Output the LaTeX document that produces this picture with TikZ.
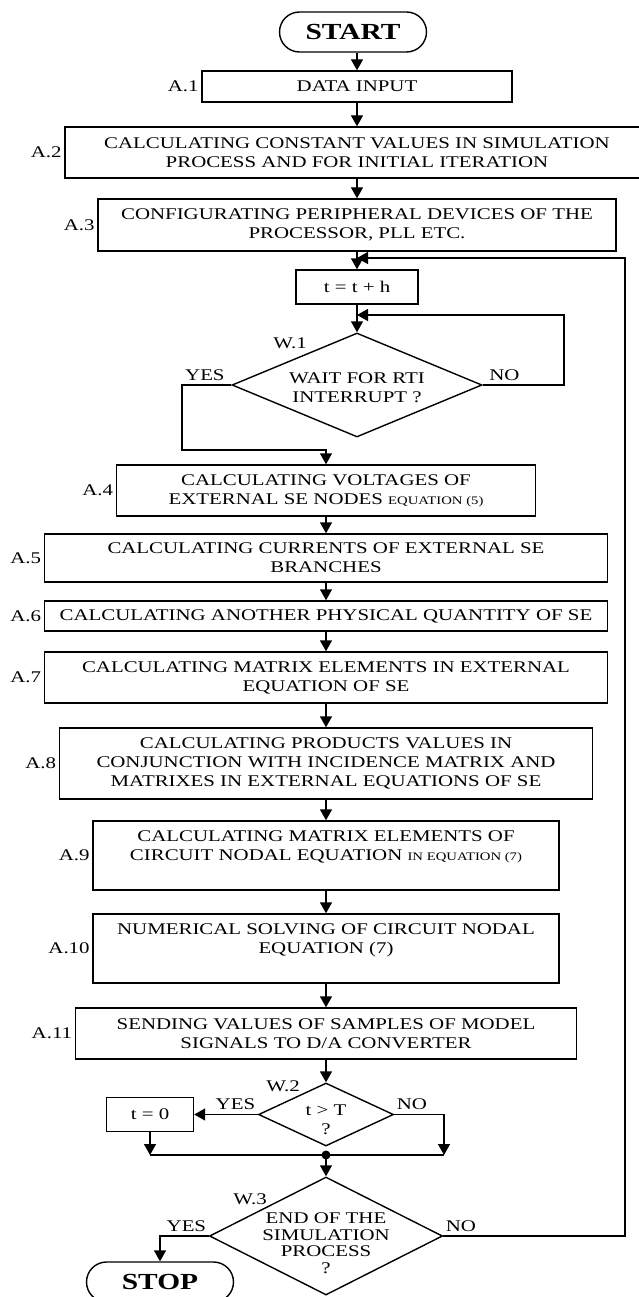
\documentclass[tikz,border=0pt]{standalone}
\usepackage{fontspec}
\setmainfont{Liberation Serif}[FakeStretch=1.28]
\usetikzlibrary{shapes.geometric,arrows.meta,positioning,calc}

\newcommand{\eqtxt}[1]{{\fontsize{11.5pt}{12pt}\selectfont #1}}

\begin{document}
\begin{tikzpicture}[x=1pt, y=-1pt,
    every node/.style={font=\fontsize{16.3pt}{19pt}\selectfont},
    every label/.style={inner sep=2pt},
    line width=1.4pt,
    box/.style={draw, rectangle, align=center, inner sep=2pt, label distance=2pt},
    decision/.style={draw, diamond, inner sep=0pt},
    term/.style={draw, rectangle, rounded corners=20pt, minimum width=147pt, minimum height=40pt, font=\fontsize{23pt}{24pt}\selectfont\bfseries},
    lbl/.style={inner sep=1pt},
    yn/.style={inner sep=2pt, yshift=2pt},
    flow/.style={-{Triangle[length=11pt,width=12pt]}}]
    \useasboundingbox (0,0) rectangle (639,1297);

    % blocks
    \node[term] (start) at (353,32) {START};
    \node[box, minimum width=310pt, minimum height=31pt, label={left:A.1}] (a1) at (357,86.5) {DATA INPUT};
    \node[box, minimum width=584pt, minimum height=51pt, label={left:A.2}] (a2) at (357,152.5) {CALCULATING CONSTANT VALUES IN SIMULATION\\PROCESS AND FOR INITIAL ITERATION};
    \node[box, minimum width=518pt, minimum height=52pt, label={left:A.3}] (a3) at (357,225) {CONFIGURATING PERIPHERAL DEVICES OF THE\\PROCESSOR, PLL ETC.};
    \node[box, minimum width=122pt, minimum height=34pt] (tth) at (357,287) {t = t + h};
    \node[decision, minimum width=250pt, minimum height=104pt, label={[align=center, yshift=-3pt]center:WAIT FOR RTI\\INTERRUPT ?}] (w1) at (357,385) {};
    \node[lbl] (w1lbl) at (290,343) {W.1};
    \node[box, minimum width=419pt, minimum height=51pt, label={left:A.4}] (a4) at (326,490.5) {CALCULATING VOLTAGES OF\\EXTERNAL SE NODES \eqtxt{EQUATION (5)}};
    \node[box, minimum width=563pt, minimum height=48pt, label={left:A.5}] (a5) at (326,558) {CALCULATING CURRENTS OF EXTERNAL SE\\BRANCHES};
    \node[box, minimum width=563pt, minimum height=30pt, label={left:A.6}] (a6) at (326,616) {CALCULATING ANOTHER PHYSICAL QUANTITY OF SE};
    \node[box, minimum width=563pt, minimum height=51pt, label={left:A.7}] (a7) at (326,677.5) {CALCULATING MATRIX ELEMENTS IN EXTERNAL\\EQUATION OF SE};
    \node[box, minimum width=533pt, minimum height=71pt, label={left:A.8}] (a8) at (326,763.5) {CALCULATING PRODUCTS VALUES IN\\CONJUNCTION WITH INCIDENCE MATRIX AND\\MATRIXES IN EXTERNAL EQUATIONS OF SE};
    \node[box, minimum width=466pt, minimum height=69pt, label={left:A.9}] (a9) at (326,855.5) {CALCULATING MATRIX ELEMENTS OF\\CIRCUIT NODAL EQUATION \eqtxt{IN EQUATION (7)}\\~};
    \node[box, minimum width=466pt, minimum height=69pt, label={left:A.10}] (a10) at (326,948.5) {NUMERICAL SOLVING OF CIRCUIT NODAL\\EQUATION (7)\\~};
    \node[box, minimum width=501pt, minimum height=51pt, label={left:A.11}] (a11) at (326,1033.5) {SENDING VALUES OF SAMPLES OF MODEL\\SIGNALS TO D/A CONVERTER};
    \node[decision, minimum width=135pt, minimum height=63pt, label={[align=center, yshift=-5pt]center:t > T\\?}] (w2) at (326,1114.5) {};
    \node[lbl] (w2lbl) at (283,1086) {W.2};
    \node[box, minimum width=87pt, minimum height=34pt] (t0) at (150,1114.5) {t = 0};
    \node[decision, minimum width=233pt, minimum height=118pt, label={[align=center, yshift=-7pt, font=\fontsize{16.3pt}{16.5pt}\selectfont]center:END OF THE\\SIMULATION\\PROCESS\\?}] (w3) at (326,1236) {};
    \node[lbl] (w3lbl) at (250,1199) {W.3};
    \node[term] (stop) at (160,1282) {STOP};

    % helper points
    \coordinate (nw1) at (564,315);
    \coordinate (yw1) at (182,450);
    \coordinate (mrg) at (326,1155);
    \coordinate (nw2) at (444,1155);
    \coordinate (rt) at (625,258);

    % connectors
    \draw[flow] (a1.north |- start.south) -- (a1);
    \draw[flow] (a1) -- (a2);
    \draw[flow] (a2) -- (a3);
    \draw[flow] (a3) -- (tth);
    \draw[flow] (tth) -- (w1);
    \draw[flow] (w1.east) node[yn, anchor=south west, xshift=4pt] {NO} -| (nw1) -- (tth.south |- nw1);
    \draw[flow] (w1.west) node[yn, anchor=south east, xshift=-4pt] {YES} -| (yw1) -| (a4.north);
    \draw[flow] (a4) -- (a5);
    \draw[flow] (a5) -- (a6);
    \draw[flow] (a6) -- (a7);
    \draw[flow] (a7) -- (a8);
    \draw[flow] (a8) -- (a9);
    \draw[flow] (a9) -- (a10);
    \draw[flow] (a10) -- (a11);
    \draw[flow] (a11) -- (w2);
    \draw[flow] (w2.west) node[yn, anchor=south east] {YES} -- (t0.east);
    \draw[flow] (t0.south) -- (t0.south |- mrg);
    \draw[flow] (w2.east) node[yn, anchor=south west] {NO} -| (nw2);
    \draw (t0.south |- mrg) -- (nw2);
    \fill (mrg) circle (4.5pt);
    \draw[flow] (mrg) -- (w3);
    \draw[flow] (w3.west) node[yn, anchor=south east] {YES} -| (stop.north);
    \draw[flow] (w3.east) node[yn, anchor=south west] {NO} -| (rt) -- (a3.south |- rt);
\end{tikzpicture}
\end{document}
